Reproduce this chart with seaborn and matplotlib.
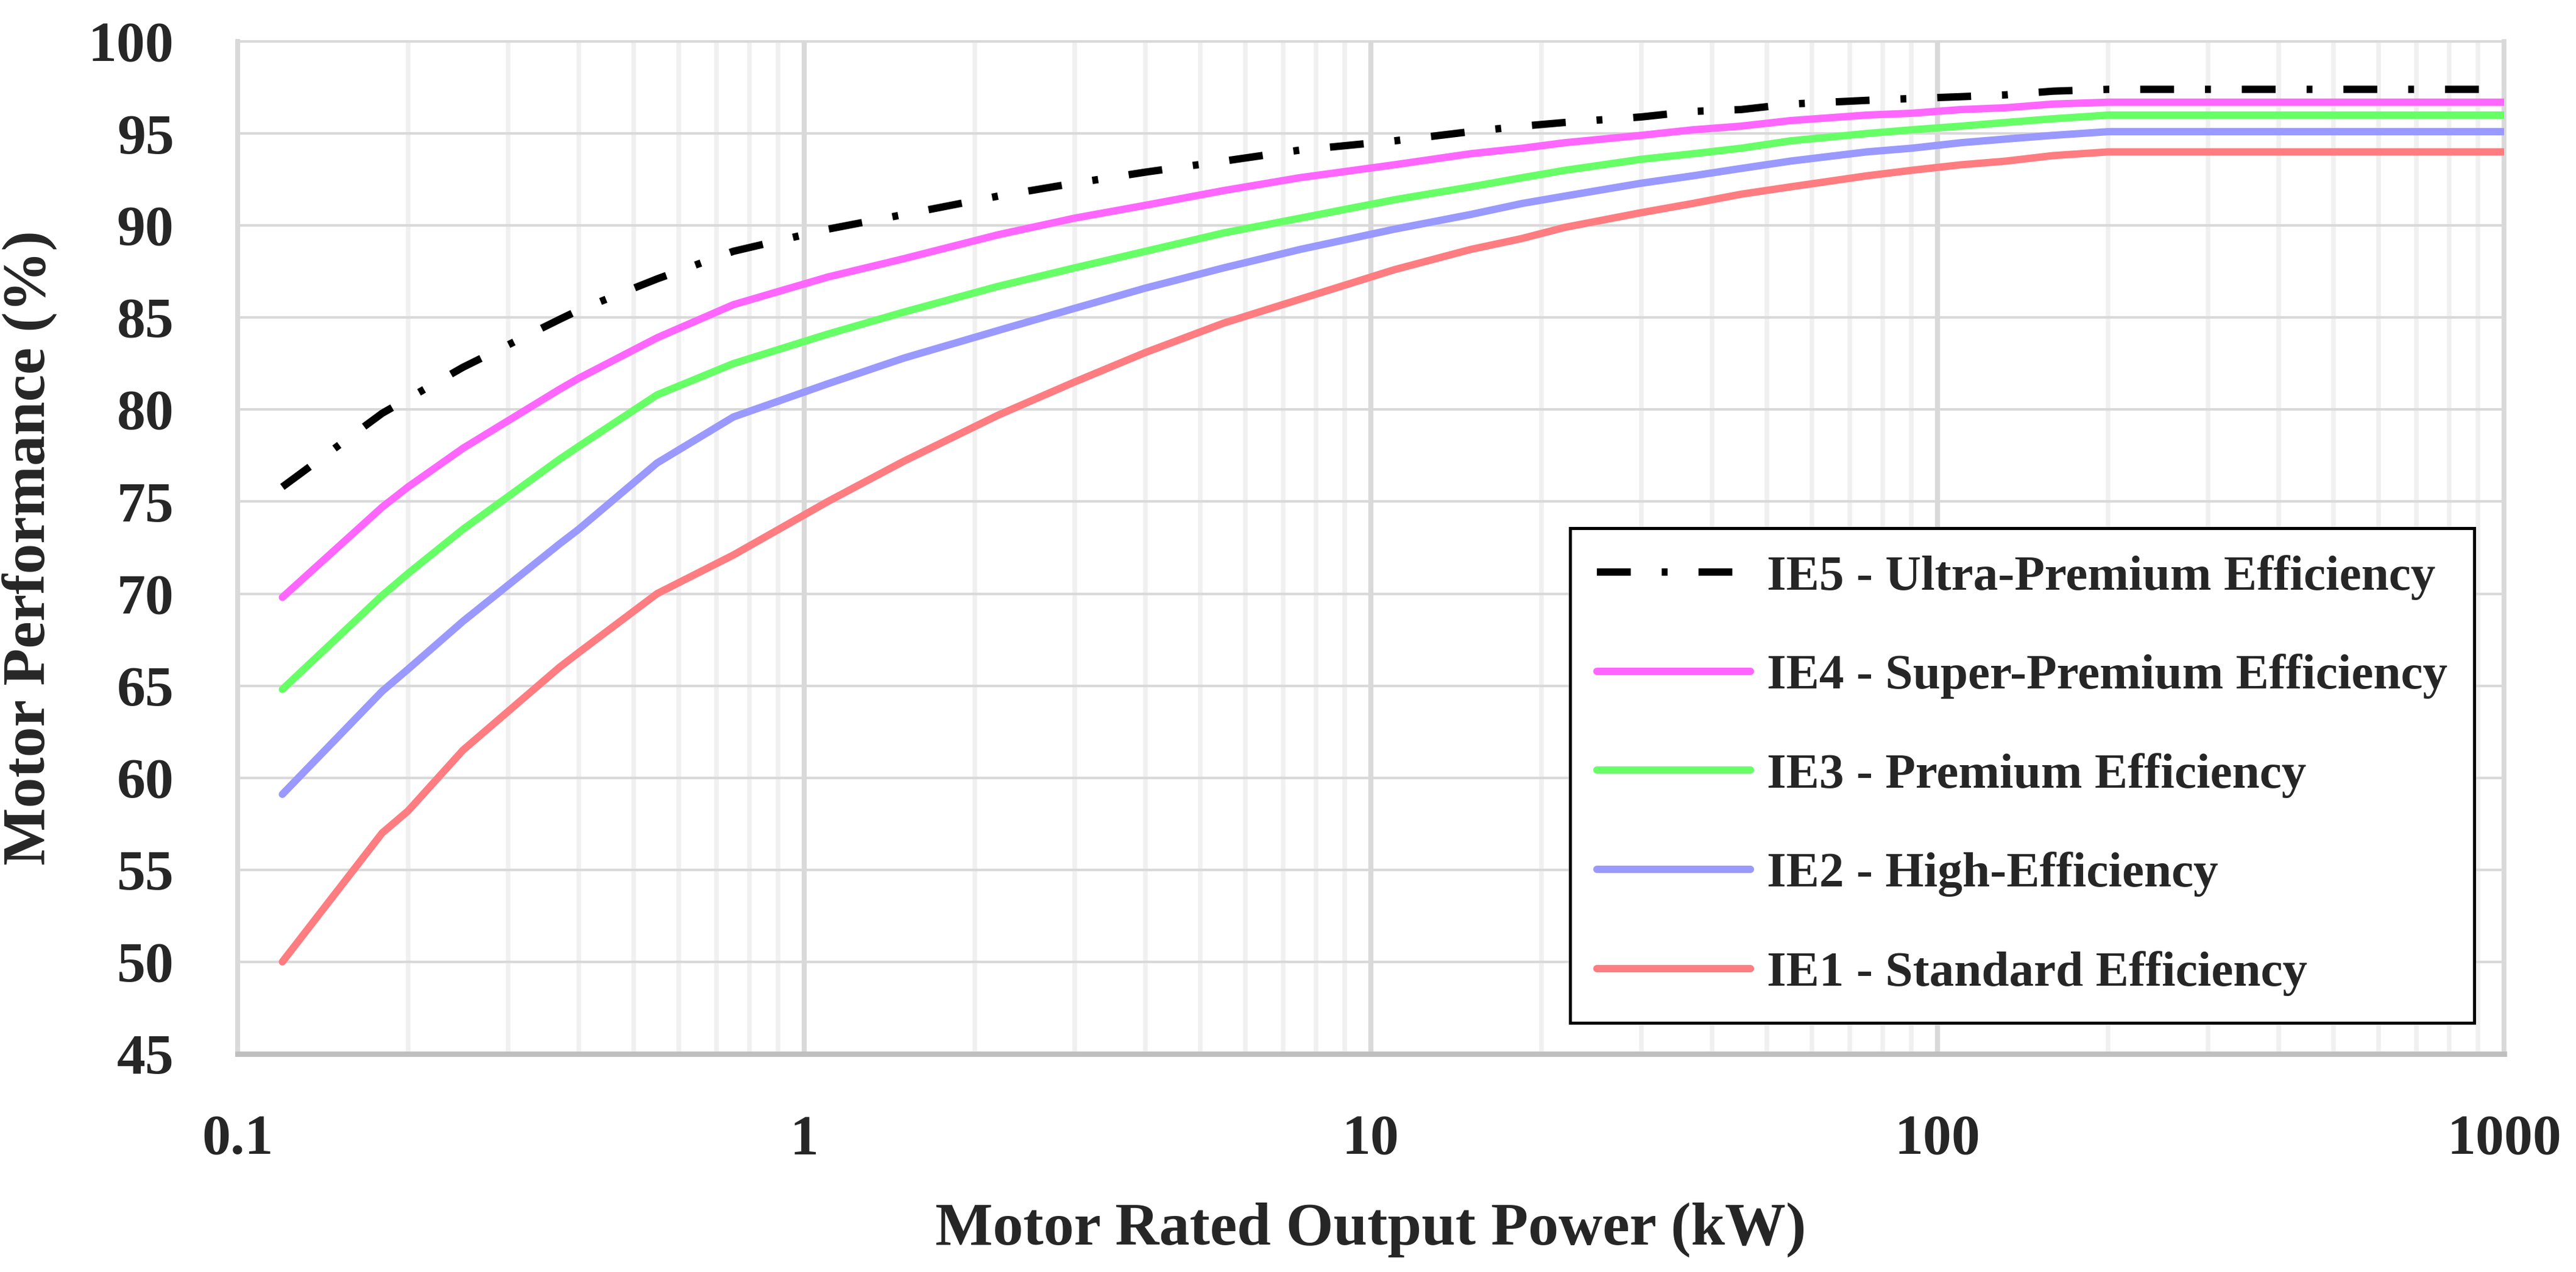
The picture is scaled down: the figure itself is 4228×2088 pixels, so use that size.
import numpy as np
import pandas as pd
import matplotlib
matplotlib.use("Agg")
import matplotlib.pyplot as plt
from matplotlib.ticker import LogLocator, NullFormatter, FixedLocator
import seaborn as sns

# IEC efficiency classes, 4-pole motors
power_kw = [0.12, 0.18, 0.20, 0.25, 0.37, 0.40, 0.55, 0.75, 1.1, 1.5, 2.2, 3, 4, 5.5, 7.5,
            11, 15, 18.5, 22, 30, 37, 45, 55, 75, 90, 110, 132, 160, 200, 1000]

ie5 = [75.8, 79.8, 80.6, 82.3, 84.9, 85.4, 87.1, 88.6, 89.8, 90.6, 91.6, 92.3, 92.9, 93.5, 94.1,
       94.6, 95.1, 95.4, 95.6, 95.9, 96.2, 96.3, 96.6, 96.8, 96.9, 97.0, 97.1, 97.3, 97.4, 97.4]
ie4 = [69.8, 74.7, 75.8, 77.9, 81.1, 81.7, 83.9, 85.7, 87.2, 88.2, 89.5, 90.4, 91.1, 91.9, 92.6,
       93.3, 93.9, 94.2, 94.5, 94.9, 95.2, 95.4, 95.7, 96.0, 96.1, 96.3, 96.4, 96.6, 96.7, 96.7]
ie3 = [64.8, 69.9, 71.1, 73.5, 77.3, 78.0, 80.8, 82.5, 84.1, 85.3, 86.7, 87.7, 88.6, 89.6, 90.4,
       91.4, 92.1, 92.6, 93.0, 93.6, 93.9, 94.2, 94.6, 95.0, 95.2, 95.4, 95.6, 95.8, 96.0, 96.0]
ie2 = [59.1, 64.7, 65.9, 68.5, 72.7, 73.5, 77.1, 79.6, 81.4, 82.8, 84.3, 85.5, 86.6, 87.7, 88.7,
       89.8, 90.6, 91.2, 91.6, 92.3, 92.7, 93.1, 93.5, 94.0, 94.2, 94.5, 94.7, 94.9, 95.1, 95.1]
ie1 = [50.0, 57.0, 58.2, 61.5, 66.0, 66.8, 70.0, 72.1, 75.0, 77.2, 79.7, 81.5, 83.1, 84.7, 86.0,
       87.6, 88.7, 89.3, 89.9, 90.7, 91.2, 91.7, 92.1, 92.7, 93.0, 93.3, 93.5, 93.8, 94.0, 94.0]

labels = ["IE5 - Ultra-Premium Efficiency", "IE4 - Super-Premium Efficiency",
          "IE3 - Premium Efficiency", "IE2 - High-Efficiency", "IE1 - Standard Efficiency"]
colors = ["#000000", "#FF66FF", "#66FF66", "#9999FF", "#FF7C80"]

x_ticks = [0.1, 1, 10, 100, 1000]
x_tick_labels = ["0.1", "1", "10", "100", "1000"]
y_ticks = list(range(45, 101, 5))

sns.set_style("white")
plt.rcParams['font.family'] = ['Liberation Serif', 'DejaVu Serif']
plt.rcParams['font.weight'] = 'bold'
plt.rcParams['axes.labelweight'] = 'bold'

fig, ax = plt.subplots(figsize=(4228 / 300, 2088 / 300), dpi=300)
fig.subplots_adjust(left=0.0922, right=0.9721, top=0.9674, bottom=0.1715)

series = [ie5, ie4, ie3, ie2, ie1]
for vals, lab, col in zip(series, labels, colors):
    df = pd.DataFrame({"power": power_kw, "eff": vals})
    sns.lineplot(data=df, x="power", y="eff", color=col, linewidth=2.9,
                 label=lab, ax=ax, zorder=3)

# dash-dot style for IE5
ie5_line = ax.lines[0]
ie5_line.set_linestyle((0, (4.6, 4.2, 0.8, 4.2)))
ie5_line.set_dash_capstyle('butt')

ax.set_xscale("log")
ax.set_xlim(0.1, 1000)
ax.set_ylim(45, 100)
ax.xaxis.set_major_locator(FixedLocator(x_ticks))
ax.set_xticklabels(x_tick_labels)
ax.xaxis.set_minor_locator(LogLocator(base=10, subs=np.arange(2, 10)))
ax.xaxis.set_minor_formatter(NullFormatter())
ax.set_yticks(y_ticks)

ax.grid(True, which='major', axis='y', color='#D9D9D9', linewidth=1.0, zorder=0)
ax.grid(True, which='major', axis='x', color='#D9D9D9', linewidth=2.0, zorder=0)
ax.grid(True, which='minor', axis='x', color='#F0F0F0', linewidth=1.8, zorder=0)
ax.set_axisbelow(True)

ax.tick_params(axis='both', which='both', length=0)
ax.tick_params(axis='y', labelsize=22.5, pad=25)
ax.tick_params(axis='x', labelsize=22.5, pad=24)
for t in ax.get_xticklabels() + ax.get_yticklabels():
    t.set_fontweight('bold')

ax.spines['left'].set_color('#D9D9D9')
ax.spines['left'].set_linewidth(1.9)
ax.spines['bottom'].set_color('#BFBFBF')
ax.spines['bottom'].set_linewidth(2.1)
ax.spines['top'].set_color('#D9D9D9')
ax.spines['top'].set_linewidth(1.0)
ax.spines['right'].set_color('#D9D9D9')
ax.spines['right'].set_linewidth(1.8)

ax.set_xlabel("Motor Rated Output Power (kW)", fontsize=24, fontweight='bold', labelpad=14)
ax.set_ylabel("Motor Performance (%)", fontsize=24, fontweight='bold', labelpad=12)

leg = ax.legend(loc='lower right', bbox_to_anchor=(0.9868, 0.0307), borderaxespad=0,
                fontsize=19.5, handlelength=3.1, handletextpad=0.33, labelspacing=1.09,
                borderpad=0.54, frameon=True, fancybox=False, framealpha=1,
                edgecolor='black')
leg.get_frame().set_linewidth(1.2)
leg.set_zorder(5)
for txt in leg.get_texts():
    txt.set_fontweight('bold')

fig.savefig("out.png", dpi=300)
plt.close(fig)
